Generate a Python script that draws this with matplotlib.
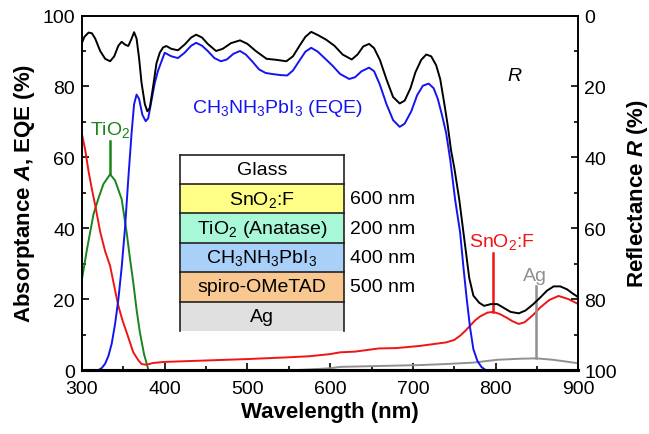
import matplotlib
matplotlib.use("Agg")
import matplotlib.pyplot as plt
from matplotlib.patches import Rectangle
from matplotlib.ticker import MultipleLocator

plt.rcParams['font.family'] = ['Liberation Sans', 'DejaVu Sans']
plt.rcParams['mathtext.fontset'] = 'custom'
plt.rcParams['mathtext.rm'] = 'Liberation Sans'
plt.rcParams['mathtext.it'] = 'Liberation Sans:italic:bold'
plt.rcParams['mathtext.bf'] = 'Liberation Sans:bold'
plt.rcParams['mathtext.default'] = 'regular'

wl_r = [300, 303, 308, 312, 316, 322, 328, 334, 339, 344, 348, 352, 356, 360, 363, 366,
        369, 372, 376, 379, 382, 386, 390, 394, 398, 402, 408, 416, 424, 432, 438, 445,
        452, 462, 470, 480, 491, 500, 510, 523, 535, 547, 555, 563, 570, 577, 585, 595,
        605, 615, 626, 633, 640, 647, 653, 660, 668, 676, 684, 690, 697, 703, 710, 716,
        722, 728, 733, 738, 742, 746, 750, 756, 762, 768, 773, 780, 786, 794, 802, 810,
        818, 828, 836, 845, 854, 862, 870, 878, 886, 893, 900]
one_minus_r = [92.3, 94, 95.2, 95, 93.5, 90, 87.8, 87.1, 88.5, 91.5, 92.6, 91.8, 91.4, 93.5, 95.3, 93.5,
               88, 81, 75, 73, 74, 80, 86.5, 89.5, 91, 91.4, 90.6, 90.2, 91.8, 93.8, 94.6, 93.8,
               92, 90, 90.6, 92.2, 93, 92, 90, 87.8, 87.5, 87.1, 88.5, 91.5, 94, 95.4, 94.5, 93.2,
               91.5, 89, 87.6, 89, 91.3, 92, 90.8, 87.5, 82, 77, 75.2, 76, 79.5, 84, 87.5, 89,
               88.5, 86, 82, 75, 69, 62, 57, 48, 37, 26, 21, 19, 18.1, 18.6, 18.6, 17.5,
               16.4, 16, 16.8, 18.5, 20.5, 22.4, 23.6, 23.6, 22.8, 21.6, 20.5]
refl = [100 - v for v in one_minus_r]

wl_eqe = [320, 324, 328, 332, 336, 340, 344, 348, 352, 356, 360, 363, 366, 369, 373, 377,
          380, 384, 388, 392, 396, 400, 408, 416, 424, 432, 438, 445, 452, 460, 468, 475,
          483, 491, 498, 506, 514, 522, 530, 540, 548, 555, 562, 570, 577, 585, 595, 603,
          612, 623, 630, 638, 647, 653, 660, 668, 676, 684, 690, 698, 705, 712, 719, 725,
          730, 735, 740, 745, 751, 757, 761, 765, 769, 773, 778, 783, 788]
eqe = [0, 0.6, 1.8, 4, 7.5, 13, 20, 29, 40, 54, 67, 75, 77.7, 76.5, 72, 70.2,
       71, 76, 81, 84.5, 87, 89.5, 88.5, 88, 89.5, 91.5, 92.3, 91.5, 90, 88, 87.1, 87.6,
       89.2, 90, 89, 87, 84.8, 83.8, 83.5, 83.2, 83.1, 84.5, 87, 89.8, 90.9, 89.8, 87.6, 85.8,
       83.5, 82.1, 82.6, 84.3, 85.3, 84.3, 80.5, 75, 70.5, 68.6, 69.5, 73, 77.5, 80.2, 80.8, 79.5,
       76.5, 72, 67, 59.4, 48, 38.8, 29, 20, 12, 5.9, 2.5, 0.8, 0]

wl_fto = [300, 304, 308, 312, 316, 322, 328, 334, 340, 344, 349, 354, 362, 368, 372, 378,
          386, 400, 450, 500, 550, 575, 600, 612, 630, 659, 680, 708, 740, 750, 757, 763,
          769, 775, 781, 790, 797, 805, 813, 820, 828, 835, 845, 854, 865, 876, 888, 900]
a_fto = [66.5, 62, 56, 51, 46.5, 39, 33.5, 29.4, 22.5, 18.1, 14, 10.6, 5, 2.8, 1.7, 1.5,
         2, 2.3, 2.7, 3.1, 3.6, 3.9, 4.5, 5, 5.2, 6.1, 6.2, 6.8, 7.8, 8.5, 9.7, 11,
         12.5, 14, 15.1, 16.2, 16.4, 15.8, 14.8, 13.8, 13, 13.5, 15.5, 17.7, 19.8, 20.9, 20, 18.6]

wl_tio2 = [300, 306, 314, 320, 326, 334, 340, 348, 354, 358, 362, 366, 370, 375, 380]
a_tio2 = [25.6, 34, 44, 48.5, 52.5, 55.2, 53.5, 48.2, 38.8, 31.5, 24.7, 17, 10.6, 4.5, 0.3]

wl_ag = [560, 600, 612, 650, 708, 740, 773, 802, 830, 849, 869, 885, 900]
a_ag = [0, 0.5, 0.9, 1.1, 1.4, 1.7, 2.1, 2.9, 3.2, 3.3, 2.9, 2.4, 1.9]

layers = ['Glass', 'SnO$_2$:F', 'TiO$_2$ (Anatase)', 'CH$_3$NH$_3$PbI$_3$', 'spiro-OMeTAD', 'Ag']
layer_colors = ['#FFFFFF', '#FFFF88', '#A8F8D8', '#A8D0F8', '#F8C890', '#E0E0E0']
thickness = ['', '600 nm', '200 nm', '400 nm', '500 nm', '']

fig = plt.figure(figsize=(6.49, 4.35), dpi=100)
ax = fig.add_axes([0.1263, 0.147, 0.765, 0.815])
ax2 = ax.twinx()

blue = '#1414F0'
red = '#F01414'
green = '#1A851A'
gray = '#909090'

ax.plot(wl_ag, a_ag, color=gray, lw=1.4)
ax.plot(wl_tio2, a_tio2, color=green, lw=1.4)
ax.plot(wl_fto, a_fto, color=red, lw=1.4)
ax.plot(wl_eqe, eqe, color=blue, lw=1.4)
ax2.plot(wl_r, refl, color='black', lw=1.4)

# marker lines with labels
ax.plot([334, 334], [55.2, 64.6], color=green, lw=1.8)
ax.text(334, 65.3, 'TiO$_2$', color=green, fontsize=14, ha='center', va='bottom')
ax.plot([797, 797], [16.4, 33.1], color=red, lw=1.8)
ax.text(808, 33.6, 'SnO$_2$:F', color=red, fontsize=14, ha='center', va='bottom')
ax.plot([849, 849], [3.3, 23.6], color=gray, lw=1.8)
ax.text(848, 24.2, 'Ag', color=gray, fontsize=14, ha='center', va='bottom')
ax.text(536, 74, 'CH$_3$NH$_3$PbI$_3$ (EQE)', color=blue, fontsize=14, ha='center', va='center')
ax.text(823, 83, 'R', fontsize=14, style='italic', ha='center', va='center')

# layer stack inset
x0, x1 = 418.7, 616.7
top = 60.8
h = 8.3
for i, (name, col, th) in enumerate(zip(layers, layer_colors, thickness)):
    yb = top - (i + 1) * h
    ax.add_patch(Rectangle((x0, yb), x1 - x0, h, facecolor=col,
                           edgecolor='none', zorder=4))
    ax.plot([x0, x0], [yb, yb + h], color='#222222', lw=1.2, zorder=5)
    ax.plot([x1, x1], [yb, yb + h], color='#222222', lw=1.2, zorder=5)
    ax.plot([x0, x1], [yb + h, yb + h], color='#222222', lw=1.2, zorder=5)
    ax.text((x0 + x1) / 2, yb + h / 2, name, fontsize=14, ha='center', va='center', zorder=6)
    if th:
        ax.text(x1 + 7, yb + h / 2, th, fontsize=14, ha='left', va='center', zorder=6)

ax.set_xlim(300, 900)
ax.set_ylim(0, 100)
ax2.set_ylim(100, 0)
ax.xaxis.set_major_locator(MultipleLocator(100))
ax.xaxis.set_minor_locator(MultipleLocator(50))
ax.yaxis.set_major_locator(MultipleLocator(20))
ax.yaxis.set_minor_locator(MultipleLocator(10))
ax2.yaxis.set_major_locator(MultipleLocator(20))
ax2.yaxis.set_minor_locator(MultipleLocator(10))

for a in (ax, ax2):
    a.tick_params(which='both', direction='in', labelsize=14, width=1.2)
    a.tick_params(which='major', length=5)
    a.tick_params(which='minor', length=3)
    for s in a.spines.values():
        s.set_linewidth(1.2)
ax.tick_params(axis='x', pad=7)
ax.tick_params(axis='y', pad=5)
ax2.tick_params(axis='y', pad=4)
ax.spines['bottom'].set_linewidth(2.2)
ax2.spines['bottom'].set_linewidth(2.2)

ax.set_xlabel('Wavelength (nm)', fontsize=16, fontweight='bold', labelpad=3)
ax.set_ylabel(r'Absorptance $\mathit{A}$, EQE (%)', fontsize=16, fontweight='bold', labelpad=4)
ax2.set_ylabel(r'Reflectance $\mathit{R}$ (%)', fontsize=16, fontweight='bold', labelpad=6)

fig.savefig('out.png', dpi=100)
